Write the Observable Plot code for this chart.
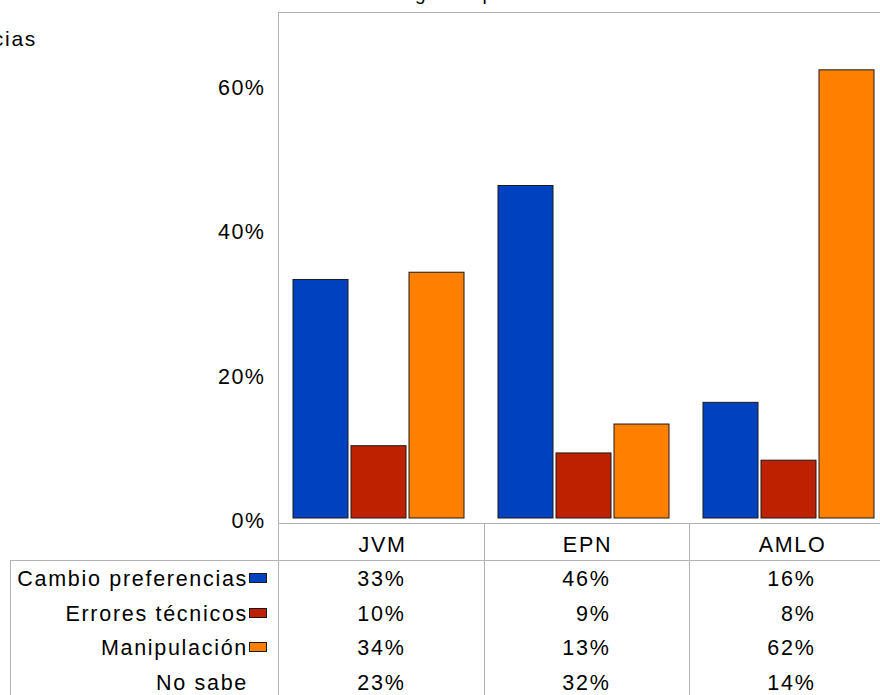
<!DOCTYPE html>
<html><head><meta charset="utf-8">
<script src="https://cdn.jsdelivr.net/npm/d3@7"></script>
<script src="https://cdn.jsdelivr.net/npm/@observablehq/plot@0.6"></script>
<style>
html,body{margin:0;padding:0;background:#fff;overflow:hidden}
#page{position:relative;width:880px;height:695px;overflow:hidden;font-family:"Liberation Sans",Arial,sans-serif;font-size:21.5px;letter-spacing:1.7px;color:#000;background:#fff}
#page .abs{position:absolute;white-space:nowrap}
#page .ln{position:absolute;background:#b3b3b3}
#chart svg{position:absolute;left:0;top:0}
#chart svg text{font-size:21.5px;letter-spacing:1.5px;fill:#000}
</style></head><body><div id="page"><div id="chart"></div></div>
<script>
// ---- data ----
const candidates = ["JVM", "EPN", "AMLO"];
const series = ["Cambio preferencias", "Errores técnicos", "Manipulación"];
const tableRows = ["Cambio preferencias", "Errores técnicos", "Manipulación", "No sabe"];
const cambio = [33, 46, 16];
const errores = [10, 9, 8];
const manipulacion = [34, 13, 62];
const noSabe = [23, 32, 14];
const colors = ["#0041c0", "#be2100", "#ff8000"];
const yTicks = [0, 20, 40, 60];
const yMax = 70;
const title = "Atribución de las diferencias según la preferencia electoral";

const seriesValues = [cambio, errores, manipulacion];
const tableValues = [cambio, errores, manipulacion, noSabe];
const bars = [];
candidates.forEach((c, i) => series.forEach((s, j) => bars.push({candidate: c, series: s, value: seriesValues[j][i]})));

const W = 895, H = 695, ML = 279, MT = 12, MB = 177;
const marks = [
  Plot.barY(bars, {fx: "candidate", x: "series", y: "value", fill: "series", stroke: "#1a1a1a", strokeWidth: 1})
];
const yOpts = {domain: [0, yMax], ticks: yTicks, tickFormat: d => d + "%", tickSize: 0, tickPadding: 15, label: null};
if (typeof Plot.axisY === "function") {
  marks.unshift(Plot.axisY(yTicks, {tickFormat: d => d + "%", tickSize: 0, tickPadding: 15, label: null, dy: 3, fontSize: 21.5}));
}
const plot = Plot.plot({
  width: W, height: H,
  marginLeft: ML, marginRight: 0, marginTop: MT, marginBottom: MB,
  style: {background: "transparent", maxWidth: "none", overflow: "visible", fontFamily: '"Liberation Sans", Arial, sans-serif', fontSize: "21.5px"},
  fx: {domain: candidates, padding: 0, axis: null, label: null},
  x: {domain: series, paddingInner: 0.047, paddingOuter: 0.286, align: 0.396, axis: null, label: null},
  y: yOpts,
  color: {domain: series, range: colors},
  marks
});
document.getElementById("chart").appendChild(plot);

const page = document.getElementById("page");
function el(cls, css, text) {
  const d = document.createElement("div");
  d.className = cls;
  Object.assign(d.style, css);
  if (text != null) d.textContent = text;
  page.appendChild(d);
  return d;
}
let fxLeft, bw;
try {
  const fx = plot.scale("fx");
  bw = fx.bandwidth;
  fxLeft = c => fx.apply(c);
} catch (e) {
  bw = (W - ML) / candidates.length;
  fxLeft = c => ML + candidates.indexOf(c) * bw;
}
const y0 = H - MB;            // bar baseline
const axisLineY = y0 + 5;     // header top line
const headerH = 37;
const tableTop = axisLineY + headerH;
const rowH = 34.5;

// frame lines
el("ln", {left: (ML - 1) + "px", top: MT + "px", width: "1px", height: (H - MT) + "px"});
el("ln", {left: (ML - 1) + "px", top: MT + "px", width: (W - ML + 1) + "px", height: "1px"});
el("ln", {left: (ML - 1) + "px", top: axisLineY + "px", width: (W - ML + 1) + "px", height: "1px"});
el("ln", {left: "10px", top: tableTop + "px", width: (W - 10) + "px", height: "1px"});
el("ln", {left: "10px", top: tableTop + "px", width: "1px", height: (H - tableTop) + "px"});
candidates.forEach((c, i) => {
  const x = fxLeft(c);
  if (i > 0) el("ln", {left: (x - 1) + "px", top: axisLineY + "px", width: "1px", height: (H - axisLineY) + "px"});
  el("abs", {left: x + "px", width: bw + "px", textAlign: "center", top: (axisLineY + headerH / 2 + 3 - 12) + "px", lineHeight: "24px"}, c);
});

// table rows
tableRows.forEach((r, j) => {
  const cy = tableTop + 19 + j * rowH;
  el("abs", {right: (880 - 248) + "px", textAlign: "right", top: (cy - 12) + "px", lineHeight: "24px"}, r);
  if (j < colors.length) {
    el("abs", {left: "249px", top: (cy - 6) + "px", width: "16px", height: "8px", background: colors[j], border: "1px solid #1a1a1a"});
  }
  candidates.forEach((c, i) => {
    const cx = fxLeft(c) + bw / 2;
    el("abs", {left: (cx - 27) + "px", width: "50px", textAlign: "right", top: (cy - 12) + "px", lineHeight: "24px"}, tableValues[j][i] + "%");
  });
});

// legend entry, cropped at the left edge as in the reference
el("abs", {right: (880 - 37) + "px", top: "24px", lineHeight: "30px", fontSize: "21px"}, series[0]);

// title (cropped at the top of the picture)
const t = el("abs", {top: "-15.6px", left: "0px", fontSize: "19px", lineHeight: "20px", letterSpacing: "1.5px"});
const gi = title.indexOf("según") + 3;
t.appendChild(document.createTextNode(title.slice(0, gi)));
const gs = document.createElement("span");
gs.textContent = title[gi];
t.appendChild(gs);
t.appendChild(document.createTextNode(title.slice(gi + 1)));
const gl = gs.getBoundingClientRect().left - page.getBoundingClientRect().left;
t.style.left = (427 - gl) + "px";
</script>
</body></html>
